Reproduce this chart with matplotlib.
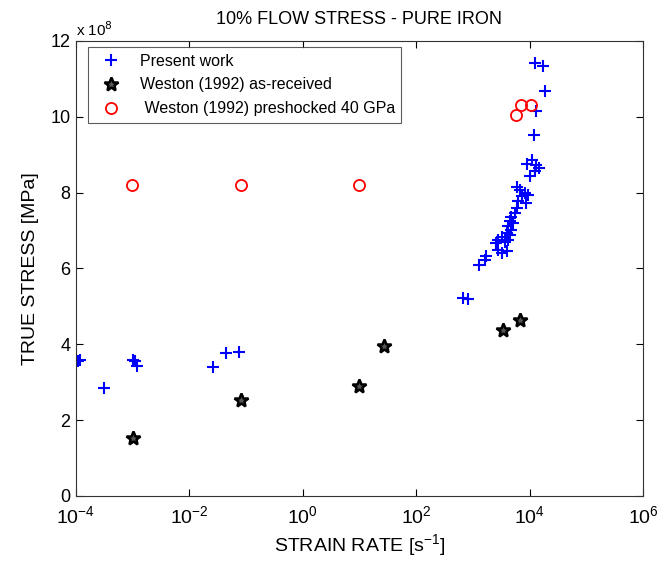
import matplotlib
matplotlib.use("Agg")
import matplotlib.pyplot as plt
from matplotlib.ticker import FixedLocator, NullLocator
import numpy as np

plt.rcParams['font.family'] = ['Liberation Sans', 'DejaVu Sans']

# Present work: log10(strain rate), stress [1e8 Pa]
present_lograte = [-3.93, -3.96, -3.51, -2.99, -2.96, -2.92, -1.58, -1.36, -1.125,
                   4.10, 4.24, 4.27, 4.12, 4.08, 3.96, 4.05, 4.12, 4.17, 4.10, 4.01,
                   3.77, 3.83, 3.92, 3.98, 3.86, 3.94, 3.80, 3.78, 3.74, 3.68, 3.65,
                   3.71, 3.62, 3.68, 3.60, 3.65, 3.51, 3.62, 3.57, 3.45, 3.41, 3.45,
                   3.51, 3.60, 3.24, 3.21, 3.10, 2.83, 2.92]
present_stress = [3.59, 3.57, 2.85, 3.59, 3.55, 3.43, 3.41, 3.77, 3.81,
                  11.42, 11.33, 10.67, 10.14, 9.53, 8.76, 8.85, 8.73, 8.66, 8.56, 8.43,
                  8.16, 8.07, 7.99, 7.94, 7.90, 7.72, 7.77, 7.59, 7.46, 7.37, 7.24,
                  7.21, 7.11, 7.02, 6.93, 6.89, 6.84, 6.75, 6.71, 6.75, 6.67, 6.49,
                  6.40, 6.47, 6.32, 6.23, 6.10, 5.22, 5.19]

# Weston (1992) as-received
asrec_lograte = [-2.99, -1.09, 0.99, 1.43, 3.53, 3.83]
asrec_stress = [1.53, 2.53, 2.90, 3.96, 4.38, 4.64]

# Weston (1992) preshocked 40 GPa
presh_lograte = [-3.01, -1.09, 0.99, 3.76, 3.85, 4.02]
presh_stress = [8.21, 8.21, 8.21, 10.05, 10.32, 10.32]

x_tick_exps = [-4, -2, 0, 2, 4, 6]
y_tick_vals = [0, 2, 4, 6, 8, 10, 12]

fig = plt.figure(figsize=(6.63, 5.61), dpi=100)
ax = fig.add_axes([0.1146, 0.1159, 0.8552, 0.8111])

ax.plot(10**np.array(present_lograte), np.array(present_stress) * 1e8, '+',
        color='#0000ff', ms=9, mew=1.5, ls='none', label='Present work')
ax.plot(10**np.array(asrec_lograte), np.array(asrec_stress) * 1e8, '*',
        mfc='#555555', mec='black', ms=10, mew=1.8, ls='none',
        label='Weston (1992) as-received')
ax.plot(10**np.array(presh_lograte), np.array(presh_stress) * 1e8, 'o',
        mfc='none', mec='#ff0000', ms=8, mew=1.3, ls='none',
        label=' Weston (1992) preshocked 40 GPa')

ax.set_xscale('log')
ax.set_xlim(1e-4, 1e6)
ax.set_ylim(0, 12e8)
ax.xaxis.set_major_locator(FixedLocator([10.0**e for e in x_tick_exps]))
ax.xaxis.set_minor_locator(NullLocator())
ax.set_xticklabels([r'10$^{\mathregular{%d}}$' % e for e in x_tick_exps])
ax.set_yticks([v * 1e8 for v in y_tick_vals])
ax.set_yticklabels([str(v) for v in y_tick_vals])
ax.text(0.0, 1.005, r'x 10$^{8}$', transform=ax.transAxes, fontsize=11,
        ha='left', va='bottom')

ax.tick_params(direction='in', top=True, right=True, labelsize=13, length=5,
               width=0.8)
ax.tick_params(axis='x', pad=7, labelsize=14)
ax.tick_params(axis='y', pad=4)
for s in ax.spines.values():
    s.set_linewidth(0.8)
    s.set_color('#333333')

ax.set_xlabel(r'STRAIN RATE [s$^{\mathregular{-1}}$]', fontsize=14, labelpad=3)
ax.set_ylabel('TRUE STRESS [MPa]', fontsize=14, labelpad=8)
ax.set_title('10% FLOW STRESS - PURE IRON', fontsize=13, pad=12)

leg = ax.legend(loc='upper left', bbox_to_anchor=(0.022, 0.986), fontsize=11.5,
                frameon=True, fancybox=False, edgecolor='#333333',
                borderaxespad=0, handletextpad=0.8, labelspacing=0.55,
                handlelength=2.0, borderpad=0.4)
leg.get_frame().set_linewidth(0.8)

fig.savefig('out.png', dpi=100)
